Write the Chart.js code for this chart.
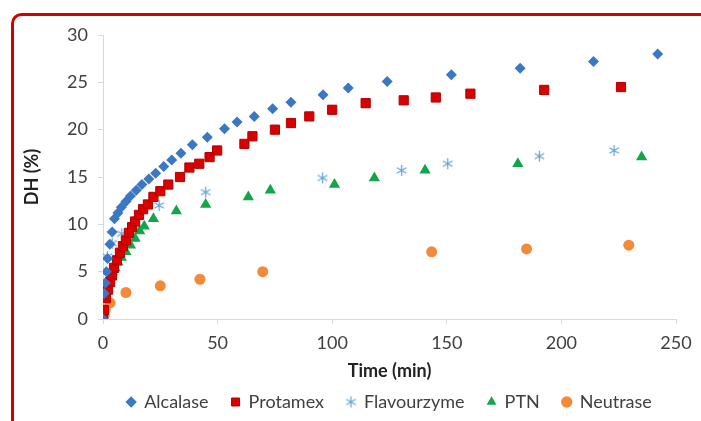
<!DOCTYPE html>
<html>
<head>
<meta charset="utf-8">
<script src="https://cdn.jsdelivr.net/npm/chart.js@4"></script>
<style>
html,body{margin:0;padding:0;background:#fff;}
#wrap{width:701px;height:421px;position:relative;}
</style>
</head>
<body>
<div id="wrap"><canvas id="c" width="701" height="421"></canvas></div>
<script>
// ---- Data (time in min, DH in %) ----
const alcalaseT  = [0, 0.5, 1, 1.5, 2, 3, 4, 5, 6.5, 8, 10, 12, 14.5, 17, 20, 23, 26.5, 30, 34, 39, 45.5, 53, 58.5, 66, 74, 82, 96, 107, 124, 152, 182, 214, 242];
const alcalaseDH = [0, 2.7, 3.8, 5.0, 6.4, 7.9, 9.2, 10.6, 11.2, 11.8, 12.4, 13.0, 13.6, 14.2, 14.8, 15.4, 16.1, 16.8, 17.5, 18.4, 19.2, 20.1, 20.8, 21.4, 22.2, 22.9, 23.7, 24.4, 25.1, 25.8, 26.5, 27.2, 28.0];

const protamexT  = [0, 0.4, 1.3, 2.2, 3.1, 3.9, 4.8, 6.1, 7.4, 8.7, 10, 11.3, 12.7, 14, 15.7, 17.5, 19.6, 22, 25, 28.5, 33.6, 37.7, 42, 46.5, 49.8, 61.7, 65.2, 75, 82, 90, 100, 114.6, 131.2, 145.2, 160.3, 192.5, 226];
const protamexDH = [0, 0.95, 2.2, 3.1, 3.9, 4.6, 5.4, 6.2, 7.0, 7.7, 8.3, 9.1, 9.7, 10.3, 11.0, 11.6, 12.1, 12.9, 13.5, 14.2, 15.0, 16.0, 16.4, 17.1, 17.8, 18.5, 19.3, 20.0, 20.7, 21.4, 22.1, 22.8, 23.1, 23.4, 23.8, 24.2, 24.5];

const flavourT  = [0, 1.9, 4, 8.2, 24.5, 44.8, 95.8, 130.3, 150.4, 190.4, 223];
const flavourDH = [0, 6.6, 8.0, 9.0, 12.0, 13.4, 14.9, 15.7, 16.4, 17.2, 17.8];

const ptnT  = [0, 0.5, 1, 2, 3, 4, 5.2, 6.5, 8, 10, 12, 14, 16, 18, 22, 32, 44.8, 63.4, 73, 101, 118.4, 140.5, 181, 235];
const ptnDH = [0, 2.5, 3.4, 4.0, 4.5, 5.0, 5.4, 6.0, 6.5, 7.1, 7.8, 8.5, 9.3, 9.8, 10.6, 11.4, 12.1, 12.9, 13.6, 14.2, 14.9, 15.7, 16.4, 17.1];

const neutraseT  = [0, 0.5, 1, 3.1, 10, 25, 42.3, 69.7, 143.4, 184.8, 229.4];
const neutraseDH = [0, 0.4, 1.0, 1.7, 2.8, 3.5, 4.2, 5.0, 7.1, 7.4, 7.8];

const seriesNames = ['Alcalase', 'Protamex', 'Flavourzyme', 'PTN', 'Neutrase'];
const xTicks = [0, 50, 100, 150, 200, 250];
const yTicks = [0, 5, 10, 15, 20, 25, 30];

function pts(t, v) { return t.map((x, i) => ({x: x, y: v[i]})); }

// asterisk marker (Excel-style star: vertical line + X)
function makeStar(size, color) {
  const c = document.createElement('canvas');
  c.width = size; c.height = size;
  const g = c.getContext('2d');
  const m = size / 2, r = size / 2 - 1;
  g.strokeStyle = color; g.lineWidth = 1.3;
  g.beginPath();
  g.moveTo(m, m - r); g.lineTo(m, m + r);
  const d = r * 0.87, e = r * 0.5;
  g.moveTo(m - d, m - e); g.lineTo(m + d, m + e);
  g.moveTo(m - d, m + e); g.lineTo(m + d, m - e);
  g.stroke();
  return c;
}
const starBig = makeStar(13, '#6aa6d3');

const FONT = 'Lato, "Open Sans", sans-serif';
const TXT = '#404040';

const framePlugin = {
  id: 'frame',
  afterDraw(chart) {
    const ctx = chart.ctx;
    ctx.save();
    ctx.strokeStyle = '#d40000';
    ctx.lineWidth = 3;
    ctx.beginPath();
    ctx.roundRect(12.5, 14.5, 760, 500, 9);
    ctx.stroke();
    ctx.restore();
  }
};

new Chart(document.getElementById('c'), {
  type: 'scatter',
  data: {
    datasets: [
      {label: seriesNames[0], data: pts(alcalaseT, alcalaseDH), pointStyle: 'rectRot', pointRadius: 5.5,
       backgroundColor: '#3a77c4', borderColor: '#3a77c4', borderWidth: 0},
      {label: seriesNames[1], data: pts(protamexT, protamexDH), pointStyle: 'rect', pointRadius: 6.5,
       backgroundColor: '#d90000', borderColor: '#b00000', borderWidth: 1},
      {label: seriesNames[2], data: pts(flavourT, flavourDH), pointStyle: starBig, pointRadius: 6,
       backgroundColor: '#6aa6d3', borderColor: '#6aa6d3'},
      {label: seriesNames[3], data: pts(ptnT, ptnDH), pointStyle: 'triangle', pointRadius: 6.5,
       backgroundColor: '#12a54a', borderColor: '#12a54a', borderWidth: 0},
      {label: seriesNames[4], data: pts(neutraseT, neutraseDH), pointStyle: 'circle', pointRadius: 5.5,
       backgroundColor: '#f28a3a', borderColor: '#f28a3a', borderWidth: 0}
    ]
  },
  options: {
    responsive: false,
    animation: false,
    layout: {padding: {left: 0, right: 25, top: 35, bottom: 0}},
    plugins: {
      tooltip: {enabled: false},
      legend: {
        position: 'bottom',
        fullSize: false,
        labels: {
          usePointStyle: true,
          boxWidth: 8, boxHeight: 8,
          padding: 23,
          color: TXT,
          font: {family: FONT, size: 18}
        }
      }
    },
    scales: {
      x: {
        type: 'linear', min: 0, max: 250,
        afterBuildTicks(s) { s.ticks = xTicks.map(v => ({value: v})); },
        afterFit(s) { s.height = 51; },
        grid: {drawOnChartArea: false, drawTicks: true, tickLength: 5, color: '#d9d9d9'},
        border: {color: '#d9d9d9'},
        ticks: {color: TXT, padding: 8, font: {family: FONT, size: 18}},
        title: {display: true, text: 'Time (min)', color: '#222', padding: {top: 0, bottom: -12},
                font: {family: FONT, size: 18, weight: 'bold'}}
      },
      y: {
        type: 'linear', min: 0, max: 30,
        afterBuildTicks(s) { s.ticks = yTicks.map(v => ({value: v})); },
        afterFit(s) { s.width = 103; },
        grid: {drawOnChartArea: false, drawTicks: true, tickLength: 5, color: '#d9d9d9'},
        border: {color: '#d9d9d9'},
        ticks: {color: TXT, padding: 10, font: {family: FONT, size: 18}},
        title: {display: true, text: 'DH (%)', color: '#222', padding: {top: 21, bottom: 0},
                font: {family: FONT, size: 18, weight: 'bold'}}
      }
    }
  },
  plugins: [framePlugin]
});
</script>
</body>
</html>
